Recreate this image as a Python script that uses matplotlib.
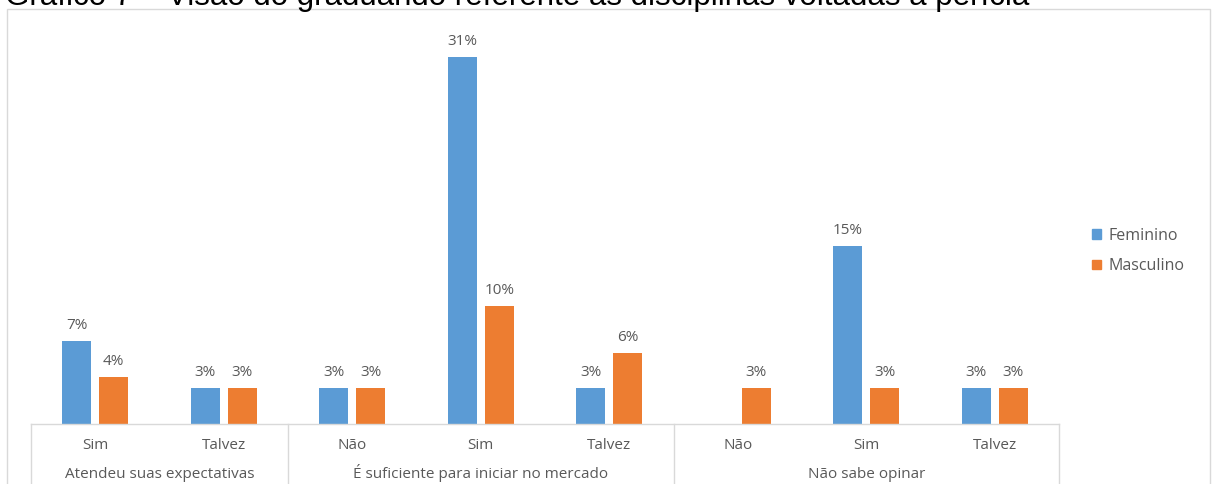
import matplotlib
matplotlib.use("Agg")
import matplotlib.pyplot as plt
from matplotlib.patches import Rectangle, Patch
from matplotlib.transforms import blended_transform_factory

# survey answers, grouped by question
groups = ["Atendeu suas expectativas", "É suficiente para iniciar no mercado", "Não sabe opinar"]
answers = [["Sim", "Talvez"], ["Não", "Sim", "Talvez"], ["Não", "Sim", "Talvez"]]
feminino = [7, 3, 3, 31, 3, 0, 15, 3]
masculino = [4, 3, 3, 10, 6, 3, 3, 3]

title = "Gráfico 7 – Visão do graduando referente às disciplinas voltadas à perícia"

BLUE = "#5B9BD5"
ORANGE = "#ED7D31"
TXT = "#595959"
LINE = "#D9D9D9"
FS = 11

plt.rcParams["font.family"] = ["Open Sans", "DejaVu Sans"]

W, H = 1212, 484
fig = plt.figure(figsize=(W / 100, H / 100), dpi=100)

# plot area in pixel terms
x0, x1 = 31, 1059
ytop, ybase = 24, 424
ax = fig.add_axes([x0 / W, (H - ybase) / H, (x1 - x0) / W, (ybase - ytop) / H])

n = len(feminino)
xs = list(range(n))
bw = 0.226
off = 0.144
ymax = 31 / ((ybase - 57) / (ybase - ytop))

bars_f = ax.bar([x - off for x in xs], feminino, width=bw, color=BLUE, label="Feminino")
bars_m = ax.bar([x + off for x in xs], masculino, width=bw, color=ORANGE, label="Masculino")

for bars, vals in ((bars_f, feminino), (bars_m, masculino)):
    for b, v in zip(bars, vals):
        if v == 0:
            continue
        ax.annotate(f"{v}%", (b.get_x() + b.get_width() / 2, v), xytext=(0, 8),
                    textcoords="offset pixels", ha="center", va="bottom",
                    fontsize=FS, color=TXT)

ax.set_xlim(-0.5, n - 0.5)
ax.set_ylim(0, ymax)
ax.set_yticks([])
ax.set_xticks([])
for s in ("top", "right", "left"):
    ax.spines[s].set_visible(False)
ax.spines["bottom"].set_color(LINE)
ax.spines["bottom"].set_linewidth(1)

# two-level category axis
tr = blended_transform_factory(ax.transData, fig.transFigure)
sub = [a for grp in answers for a in grp]
for x, lab in zip(xs, sub):
    ax.text(x, 1 - 449 / H, lab, transform=tr, ha="center", va="baseline",
            fontsize=FS, color=TXT)

edges = [-0.5]
for grp in answers:
    edges.append(edges[-1] + len(grp))
for e in edges:
    ax.plot([e, e], [1 - ybase / H, 0], transform=tr, color=LINE, lw=1, clip_on=False)
for g, a, b in zip(groups, edges[:-1], edges[1:]):
    ax.text((a + b) / 2, 1 - 478 / H, g, transform=tr, ha="center", va="baseline",
            fontsize=FS, color=TXT)

# legend
handles = [Patch(color=BLUE, label="Feminino"), Patch(color=ORANGE, label="Masculino")]
fig.legend(handles=handles, loc="center left", bbox_to_anchor=(1092 / W, 1 - 251 / H),
           frameon=False, fontsize=11.5, handlelength=0.57, handleheight=0.57,
           handletextpad=0.45, labelspacing=0.9, borderpad=0, borderaxespad=0,
           labelcolor=TXT)

# chart area frame
fig.add_artist(Rectangle((7 / W, -0.1), (1210 - 7) / W, 1.1 - 9 / H,
                         transform=fig.transFigure, fill=False, edgecolor=LINE, lw=1))

# caption, cut off by the top edge
fig.text(5 / W, 1 - 5 / H, title, ha="left", va="baseline", fontsize=22.5,
         family="Liberation Sans", color="black")

fig.savefig("out.png", dpi=100)
